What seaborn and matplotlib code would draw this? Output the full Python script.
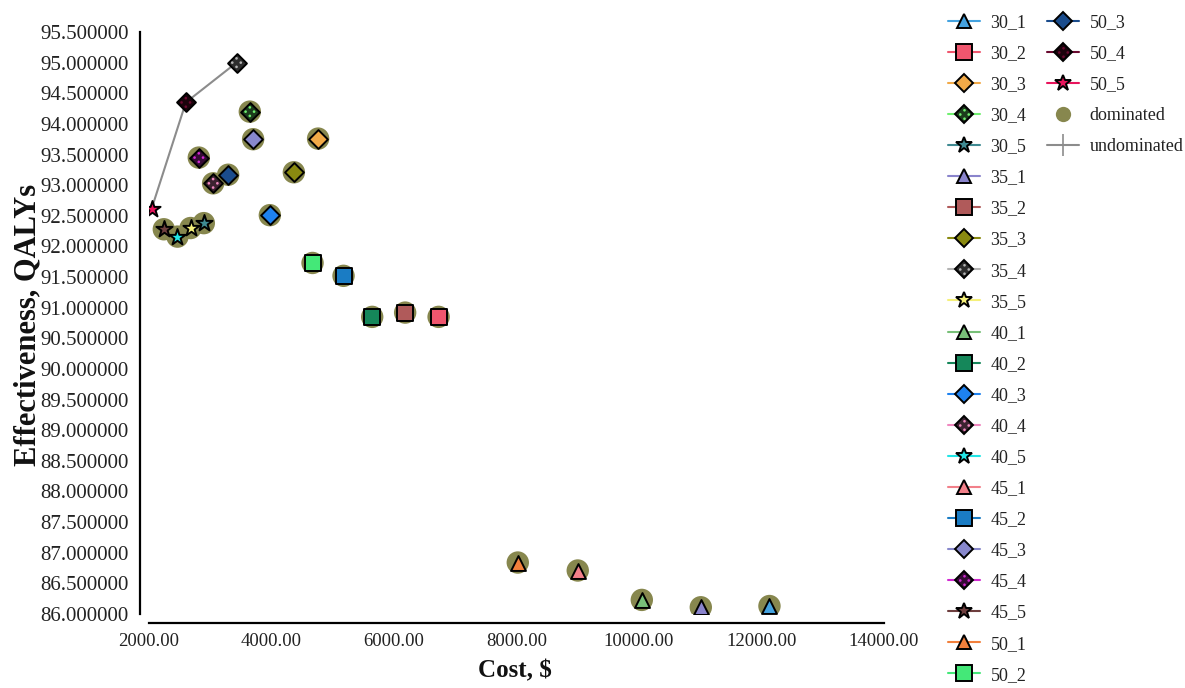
import numpy as np
import matplotlib
matplotlib.use("Agg")
import matplotlib.pyplot as plt
import seaborn as sns
from matplotlib.path import Path
from matplotlib.lines import Line2D
from matplotlib.legend_handler import HandlerTuple

# ---------------- data ----------------
strategies = ["30_1", "30_2", "30_3", "30_4", "30_5",
              "35_1", "35_2", "35_3", "35_4", "35_5",
              "40_1", "40_2", "40_3", "40_4", "40_5",
              "45_1", "45_2", "45_3", "45_4", "45_5",
              "50_1", "50_2", "50_3", "50_4", "50_5"]
cost = [12130, 6728, 4761, 3646, 2895,
        11009, 6182, 4365, 3429, 2678,
        10046, 5644, 3973, 3047, 2465,
        9000, 5176, 3700, 2813, 2242,
        8021, 4670, 3292, 2601, 2041]
effectiveness = [86.13, 90.85, 93.76, 94.20, 92.38,
                 86.11, 90.92, 93.21, 95.00, 92.30,
                 86.23, 90.85, 92.51, 93.03, 92.16,
                 86.71, 91.52, 93.75, 93.45, 92.28,
                 86.84, 91.73, 93.17, 94.35, 92.61]
dominated = [True, True, True, True, True,
             True, True, True, False, True,
             True, True, True, True, True,
             True, True, True, True, True,
             True, True, True, False, False]
series_colors = ["#45A3E0", "#F0566E", "#F2AA48", "#70F070", "#3F8A92",
                 "#8A84CC", "#B05A5A", "#8A8A10", "#B4B4B4", "#F5F07A",
                 "#78C078", "#15875A", "#1E82F0", "#F088C0", "#22E6E6",
                 "#F2808A", "#1A7CC4", "#8888CC", "#D22AD2", "#6E3E3E",
                 "#F2803C", "#44E878", "#1A4C8C", "#6A0A30", "#E8145C"]
x_ticks = [2000, 4000, 6000, 8000, 10000, 12000, 14000]
y_ticks = [86.0 + 0.5 * i for i in range(20)]

# ---------------- style ----------------
sns.set_theme(style="white")
plt.rcParams["font.family"] = ["Liberation Serif", "DejaVu Serif"]

W, H = 1185, 688
fig = plt.figure(figsize=(W / 100, H / 100), dpi=100)
ax = fig.add_axes([149 / W, 1 - 614 / H, (884 - 149) / W, (614 - 32) / H])

olive = "#87874E"
line_gray = "#8C8C8C"

# dots marker (pattern for *_4 diamonds)
c, r = 0.32, 0.10
dots_path = Path.make_compound_path(*[Path.circle((dx, dy), r) for dx, dy in
                                      [(0, c), (0, -c), (c, 0), (-c, 0)]])


def darken(col, f=0.2):
    rgb = np.array(matplotlib.colors.to_rgb(col))
    return tuple(rgb * f)


marker_for = {"1": "^", "2": "s", "3": "D", "4": "D", "5": "*"}
size_for = {"1": 115, "2": 125, "3": 92, "4": 92, "5": 150}

cost_a = np.array(cost)
eff_a = np.array(effectiveness)
dom_a = np.array(dominated)

# dominated halo circles
sns.scatterplot(x=cost_a[dom_a], y=eff_a[dom_a], s=260, color=olive,
                edgecolor="none", linewidth=0, ax=ax, zorder=2, legend=False)

# undominated frontier
sns.lineplot(x=cost_a[~dom_a], y=eff_a[~dom_a], color=line_gray, lw=1.5,
             ax=ax, zorder=1, sort=True, estimator=None)

# strategy markers
for name, cx, ey, col in zip(strategies, cost, effectiveness, series_colors):
    k = name.split("_")[1]
    fc = darken(col, 0.25) if k == "4" else col
    sns.scatterplot(x=[cx], y=[ey], marker=marker_for[k], s=size_for[k],
                    color=fc, edgecolor="black", linewidth=1.4, ax=ax,
                    zorder=3, legend=False)
    if k == "4":
        sns.scatterplot(x=[cx], y=[ey], marker=dots_path, s=size_for[k] * 0.7,
                        color=col, edgecolor="none", linewidth=0, ax=ax,
                        zorder=4, legend=False)

# ---------------- axes ----------------
ax.set_xlim(2000, 14000)
ax.set_ylim(86.0, 95.5)
ax.set_xticks(x_ticks)
ax.set_yticks(y_ticks)
ax.set_xticklabels([f"{v:.2f}" for v in x_ticks])
ax.set_yticklabels([f"{v:.6f}" for v in y_ticks])
for s in ["top", "right"]:
    ax.spines[s].set_visible(False)
ax.spines["left"].set_position(("outward", 6.5))
ax.spines["bottom"].set_position(("outward", 6.5))
ax.spines["left"].set_bounds(86.0, 95.5)
ax.spines["bottom"].set_bounds(2000, 14000)
for s in ["left", "bottom"]:
    ax.spines[s].set_color("black")
    ax.spines[s].set_linewidth(1.6)
ax.tick_params(axis="both", direction="inout", length=10, width=1.1,
               color="#AAAAAA", labelcolor="#222222")
ax.tick_params(axis="y", labelsize=15, pad=3)
ax.tick_params(axis="x", labelsize=13.5, pad=2)
ax.grid(False)
ax.set_facecolor("white")

fig.text(28 / W, 1 - 325 / H, "Effectiveness, QALYs", rotation=90,
         ha="center", va="center", fontsize=22, fontweight="bold",
         color="#111111")
fig.text(515 / W, 1 - 671 / H, "Cost, $", ha="center", va="center",
         fontsize=18, fontweight="bold", color="#111111")

# ---------------- legend ----------------
leg_ms = {"1": 10.5, "2": 11, "3": 9.5, "4": 9.5, "5": 12}


def make_handle(name, col):
    k = name.split("_")[1]
    fc = darken(col, 0.25) if k == "4" else col
    base = Line2D([], [], color=col, lw=1.5, marker=marker_for[k],
                  markersize=leg_ms[k], markerfacecolor=fc,
                  markeredgecolor="black", markeredgewidth=1.4)
    if k == "4":
        dots = Line2D([], [], lw=0, marker=dots_path, markersize=leg_ms[k] * 0.84,
                      markerfacecolor=col, markeredgecolor="none")
        return (base, dots)
    return base


handles = [make_handle(n, c_) for n, c_ in zip(strategies, series_colors)]
dom_handle = Line2D([], [], lw=0, marker="o", markersize=11,
                    markerfacecolor=olive, markeredgecolor="none")
undom_handle = Line2D([], [], color=line_gray, lw=1.5, marker="+",
                      markersize=16, markeredgewidth=1.2)

common = dict(frameon=False, fontsize=13, borderpad=0, borderaxespad=0,
              handlelength=1.75, handletextpad=0.6, labelspacing=0.78,
              loc="upper left", handler_map={tuple: HandlerTuple(ndivide=1)},
              labelcolor="#222222")
leg1 = fig.legend(handles[:22], strategies[:22],
                  bbox_to_anchor=(948 / W, 1 - 14 / H), **common)
leg2 = fig.legend(handles[22:] + [dom_handle, undom_handle],
                  strategies[22:] + ["dominated", "undominated"],
                  bbox_to_anchor=(1047 / W, 1 - 14 / H), **common)

fig.savefig("out.png", dpi=100, facecolor="white")
